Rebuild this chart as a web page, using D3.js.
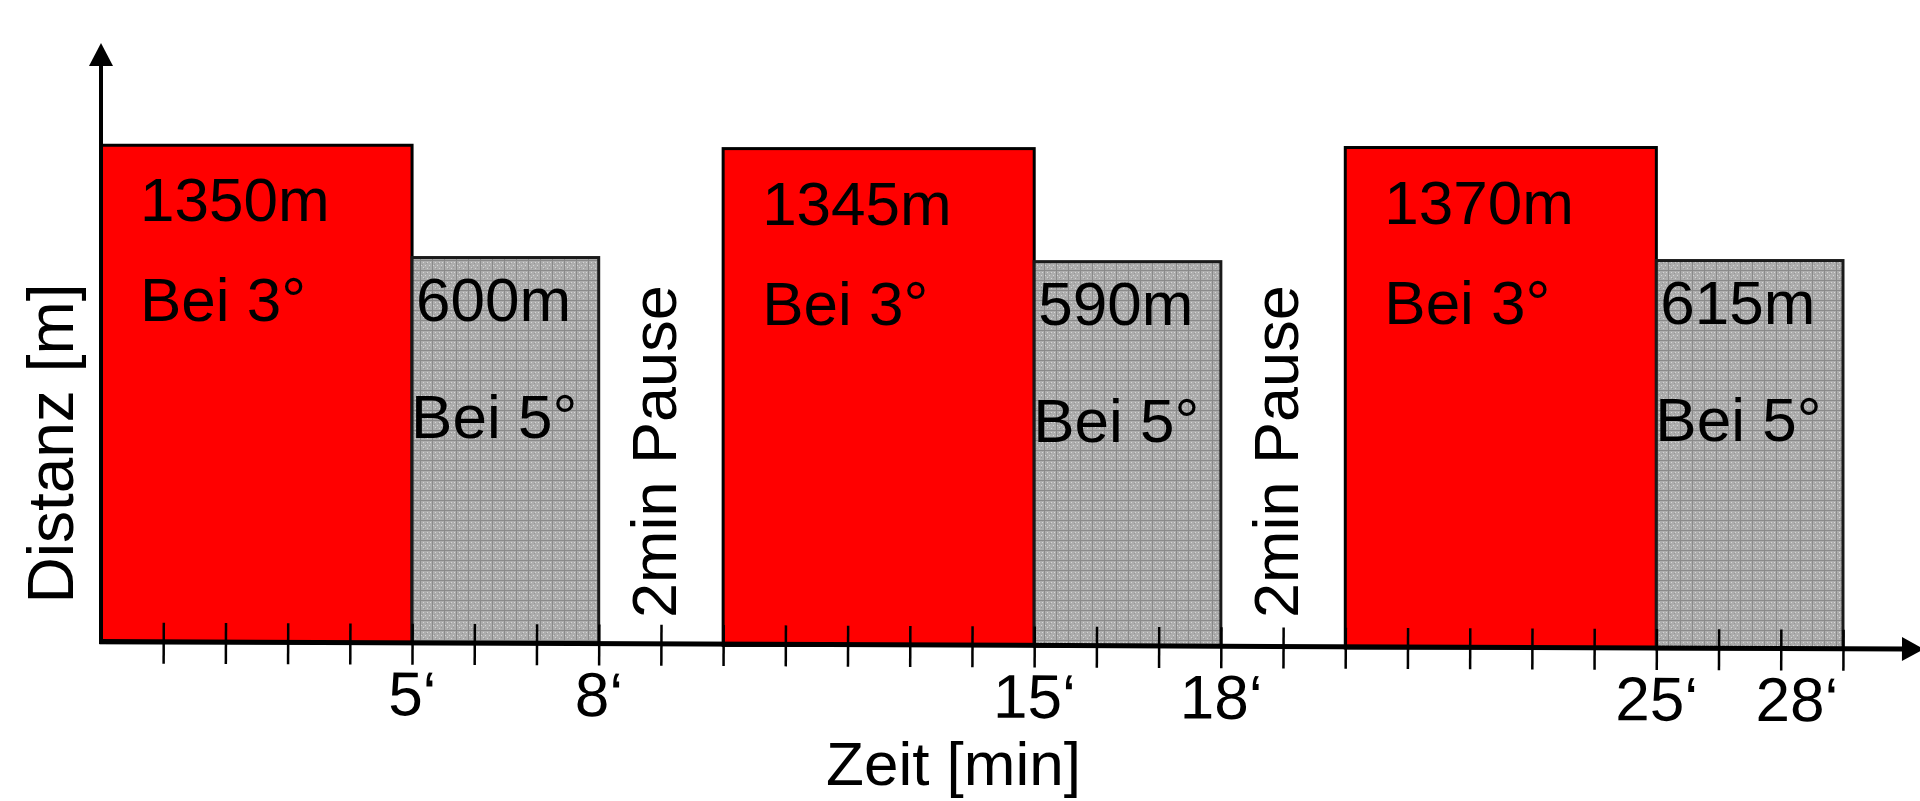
<!DOCTYPE html>
<html>
<head>
<meta charset="utf-8">
<script src="https://cdn.jsdelivr.net/npm/d3@7"></script>
<style>
  html, body { margin: 0; padding: 0; background: #ffffff; }
  svg { display: block; }
  text { font-family: "Liberation Sans", Arial, sans-serif; fill: #000; }
</style>
</head>
<body>
<script>
// Interval training: running blocks on a treadmill (minutes, distance, incline)
const intervalStart = [0, 5, 10, 15, 20, 25];
const intervalEnd   = [5, 8, 15, 18, 25, 28];
const distances     = [1350, 600, 1345, 590, 1370, 615];
const inclines      = [3, 5, 3, 5, 3, 5];

// Rest breaks between the rounds
const pauseStart = [8, 18];
const pauseLabel = "2min Pause";

// Minute ticks and the labelled ones
const tickMinutes = d3.range(1, 29);
const labelMinutes = [5, 8, 15, 18, 25, 28];
const labelTexts = ["5\u2018", "8\u2018", "15\u2018", "18\u2018", "25\u2018", "28\u2018"];

const W = 1920, H = 801;
const svg = d3.select("body").append("svg").attr("width", W).attr("height", H);

// Time scale (minutes -> px)
const x = d3.scaleLinear().domain([0, 28]).range([101, 1843]);

// The time axis falls slightly to the right
const base0 = 641.5;
const slope = 0.0042;
const baseY = px => base0 + (px - x(0)) * slope;

// Schematic distance scale (not drawn to zero)
const y = d3.scaleLinear().domain([-2000, 2035]).range([base0, 43]);
const topY = (v, px) => y(v) + (baseY(px) - base0);

// Gray hatch pattern for the steeper blocks
const defs = svg.append("defs");
const pat = defs.append("pattern")
  .attr("id", "grayGrid").attr("patternUnits", "userSpaceOnUse")
  .attr("width", 12).attr("height", 10);
pat.append("rect").attr("width", 12).attr("height", 10).attr("fill", "#adadad");
[[3,2],[7,2],[5,5],[9,5],[3,7],[7,8],[10,2],[1,5]].forEach(([a, b]) => {
  pat.append("rect").attr("x", a).attr("y", b).attr("width", 1).attr("height", 1).attr("fill", "#d6d6d6");
});
[[2,4],[6,3],[9,7],[4,8]].forEach(([a, b]) => {
  pat.append("rect").attr("x", a).attr("y", b).attr("width", 1).attr("height", 1).attr("fill", "#979797");
});
pat.append("rect").attr("x", 0).attr("y", 0).attr("width", 1).attr("height", 10).attr("fill", "#8a8a8a");
pat.append("rect").attr("x", 0).attr("y", 0).attr("width", 12).attr("height", 1).attr("fill", "#8a8a8a");

const blocks = intervalStart.map((s, i) => ({
  s, e: intervalEnd[i], d: distances[i], inc: inclines[i], steep: inclines[i] === 5
}));

// Blocks
svg.append("g").selectAll("rect").data(blocks).join("rect")
  .attr("x", d => x(d.s))
  .attr("width", d => x(d.e) - x(d.s))
  .attr("y", d => topY(d.d, (x(d.s) + x(d.e)) / 2))
  .attr("height", d => baseY(x(d.e)) - topY(d.d, (x(d.s) + x(d.e)) / 2))
  .attr("fill", d => d.steep ? "url(#grayGrid)" : "#ff0000")
  .attr("stroke", d => d.steep ? "#1a1a1a" : "#000")
  .attr("stroke-width", 3);

// Time axis with minute ticks
const angle = Math.atan(slope) * 180 / Math.PI;
const axisG = svg.append("g")
  .attr("transform", `translate(0,${base0}) rotate(${angle},${x(0)},0)`)
  .call(d3.axisBottom(x)
    .tickValues(tickMinutes)
    .tickSizeInner(22)
    .tickSizeOuter(0)
    .tickFormat(m => {
      const k = labelMinutes.indexOf(m);
      return k >= 0 ? labelTexts[k] : "";
    }))
  .attr("font-size", null).attr("font-family", null);
axisG.select(".domain").remove();
axisG.selectAll(".tick line").attr("y1", -19).attr("stroke", "#000").attr("stroke-width", 2.5);
axisG.selectAll(".tick text")
  .attr("y", 72.5).attr("dy", null)
  .style("font-size", "62px")
  .attr("fill", "#000")
  .attr("text-anchor", m => m === 28 ? "end" : "middle")
  .attr("dx", m => m === 28 ? -5 : 0);
axisG.append("line")
  .attr("x1", x(0) - 2).attr("x2", 1906).attr("y1", 0).attr("y2", 0)
  .attr("stroke", "#000").attr("stroke-width", 5);
axisG.append("path")
  .attr("d", "M1902,-12 L1924,0 L1902,12 Z").attr("fill", "#000");

// Distance axis with arrow
svg.append("line")
  .attr("x1", x(0)).attr("x2", x(0)).attr("y1", base0 + 2).attr("y2", 62)
  .attr("stroke", "#000").attr("stroke-width", 4);
svg.append("path")
  .attr("d", `M${x(0) - 12},66 L${x(0)},43 L${x(0) + 12},66 Z`).attr("fill", "#000");

// Labels inside the blocks
const lab = svg.append("g").style("font-size", "62px");
blocks.forEach(d => {
  const mid = (x(d.s) + x(d.e)) / 2;
  const t = topY(d.d, mid);
  if (!d.steep) {
    lab.append("text").attr("x", x(d.s) + 39).attr("y", t + 76).text(d.d + "m");
    lab.append("text").attr("x", x(d.s) + 39).attr("y", t + 176).text("Bei " + d.inc + "\u00B0");
  } else {
    lab.append("text").attr("x", x(d.s) + 4).attr("y", t + 63).text(d.d + "m");
    lab.append("text").attr("x", x(d.s) - 1).attr("y", t + 180).text("Bei " + d.inc + "\u00B0");
  }
});

// Pause annotations
pauseStart.forEach(p => {
  svg.append("text")
    .attr("transform", `translate(${x(p) + 77},${base0 - 23.5}) rotate(-90)`)
    .style("font-size", "63px")
    .text(pauseLabel);
});

// Axis titles
svg.append("text")
  .attr("transform", "translate(73,443.5) rotate(-90)")
  .attr("text-anchor", "middle")
  .style("font-size", "64px")
  .text("Distanz [m]");
svg.append("text")
  .attr("x", 953.5).attr("y", 785)
  .attr("text-anchor", "middle")
  .style("font-size", "62px")
  .text("Zeit [min]");
</script>
</body>
</html>
